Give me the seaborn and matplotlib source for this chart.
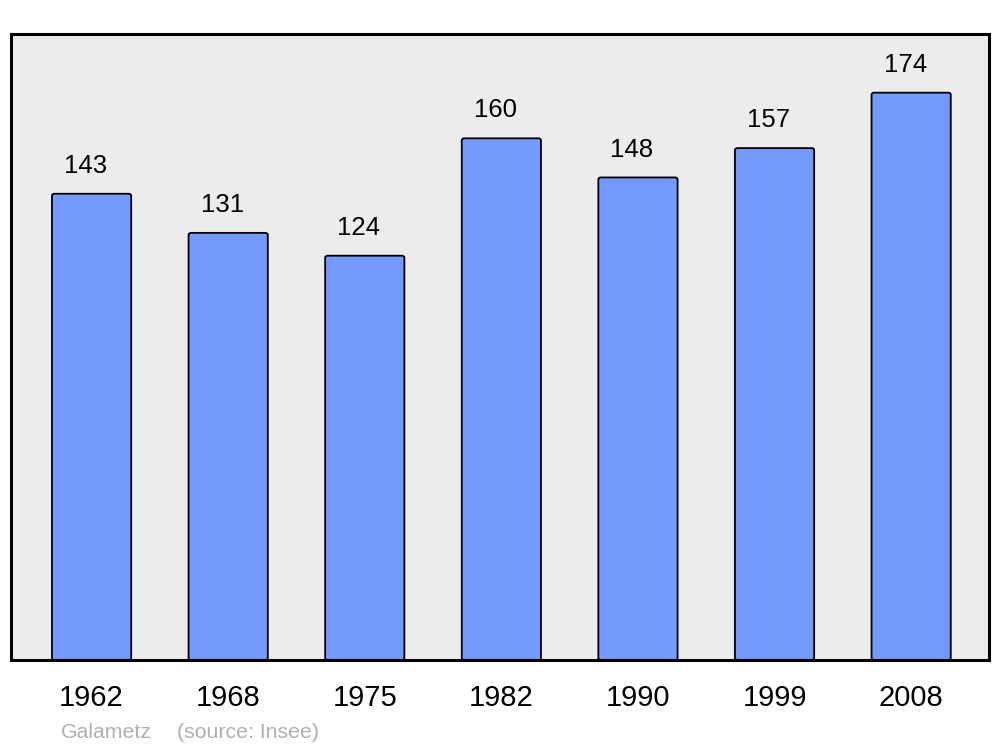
import matplotlib
matplotlib.use('Agg')
import matplotlib.pyplot as plt
import seaborn as sns
import pandas as pd
from matplotlib.patches import FancyBboxPatch

years = ['1962', '1968', '1975', '1982', '1990', '1999', '2008']
population = [143, 131, 124, 160, 148, 157, 174]

sns.set_theme(style='white')
plt.rcParams['font.family'] = ['Liberation Sans', 'DejaVu Sans']

df = pd.DataFrame({'year': years, 'pop': population})

fig = plt.figure(figsize=(10, 7.47), dpi=100)
ax = fig.add_axes([0.011, 0.1165, 0.978, 0.838])
ax.set_facecolor('#ececec')

sns.barplot(data=df, x='year', y='pop', color='#7499ff', saturation=1,
            width=0.58, edgecolor='black', linewidth=1.3, ax=ax)

# swap plain bars for slightly rounded ones
for p in list(ax.patches):
    x, y, w, h = p.get_x(), p.get_y(), p.get_width(), p.get_height()
    rb = FancyBboxPatch((x, y), w, h, boxstyle='round,pad=0,rounding_size=0.02',
                        mutation_aspect=30, facecolor='#7499ff',
                        edgecolor='black', linewidth=1.3, zorder=2)
    p.remove()
    ax.add_patch(rb)

for i, v in enumerate(population):
    ax.annotate(str(v), (i, v), xytext=(-4.3, 15), textcoords='offset points',
                ha='center', va='baseline', fontsize=18.5, color='black')

ax.set_xlim(-0.59, 6.57)
ax.set_ylim(0, 192)
ax.set_yticks([])
ax.set_xlabel('')
ax.set_ylabel('')
ax.tick_params(axis='x', length=0, pad=17, labelsize=21, colors='black')
for lab in ax.get_xticklabels():
    lab.set_x(lab.get_position()[0])
for s in ax.spines.values():
    s.set_visible(True)
    s.set_color('black')
    s.set_linewidth(2.2)

fig.text(0.061, 1 - 738 / 747, 'Galametz', fontsize=15.3, color='#b0b0b0', va='baseline')
fig.text(0.177, 1 - 738 / 747, '(source: Insee)', fontsize=15.3, color='#b0b0b0', va='baseline')

fig.savefig('out.png', dpi=100)
